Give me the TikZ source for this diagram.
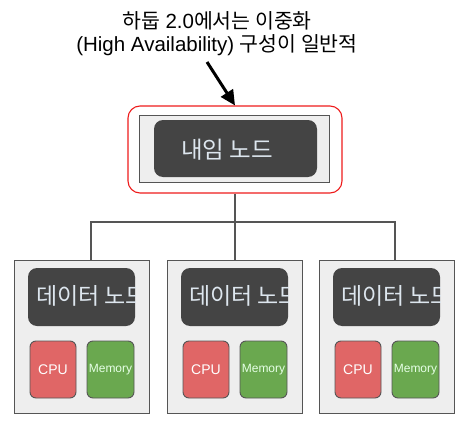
\documentclass[tikz,border=0pt]{standalone}
\usepackage{fontspec}
\setmainfont{Liberation Sans}
\newfontfamily\ko{Noto Sans CJK KR}
\usetikzlibrary{arrows.meta,calc}
\definecolor{hared}{HTML}{EE1C1C}
\definecolor{panel}{HTML}{EEEEEE}
\definecolor{edge}{HTML}{555555}
\definecolor{darkbox}{HTML}{444444}
\definecolor{lighttxt}{HTML}{DDE6EE}
\definecolor{cpured}{HTML}{E06666}
\definecolor{memgreen}{HTML}{6AA84F}
\begin{document}
\begin{tikzpicture}[x=1pt,y=-1pt,
  habox/.style={draw=hared,line width=1.1pt,rounded corners=12pt,minimum width=214pt,minimum height=87pt,inner sep=0pt},
  panelbox/.style={draw=edge,fill=panel,line width=1pt,minimum width=#1,inner sep=0pt},
  darkrect/.style={fill=darkbox,rounded corners=9pt,inner sep=0pt},
  chip/.style={draw=edge,line width=0.9pt,rounded corners=6pt,minimum width=46pt,minimum height=57pt,inner sep=0pt,text=white},
  conn/.style={draw=edge,line width=1.5pt},
  callout/.style={line width=3pt,-{Triangle[length=15pt,width=14pt]}}]
\useasboundingbox (0,0) rectangle (461,423);
% title
\node[align=center,font=\fontsize{20.5}{23}\selectfont] (title) at (217,33.5)
  {{\ko 하둡} 2.0{\ko 에서는 이중화}\\(High Availability) {\ko 구성이 일반적}};
% name node
\node[habox] (red) at (235,149.5) {};
\node[panelbox=190pt,minimum height=67pt] (gray) at (234.3,148.5) {};
\node[darkrect,minimum width=163pt,minimum height=57pt] (dark) at (235.5,148.5) {};
\node[text=lighttxt,font=\ko\fontsize{23.5}{25}\selectfont] (nn) at (227,150) {내임 노드};
% arrow
\coordinate (astart) at (207,62);
\draw[callout] (astart) -- (red.north);
% data nodes
\foreach \o/\n in {0/1,153/2,305/3}{
  \node[panelbox=135pt,minimum height=153pt] (d\n) at (81.5+\o,336.5) {};
  \node[darkrect,minimum width=107pt,minimum height=58pt] (dk\n) at (81.5+\o,297) {};
  \begin{scope}
    \clip[rounded corners=9pt] (dk\n.north west) rectangle (dk\n.south east);
    \node[anchor=west,inner sep=0pt,text=lighttxt,font=\ko\fontsize{23}{25}\selectfont] (dt\n) at (36+\o,296) {데이터 노드};
  \end{scope}
  \node[chip,fill=cpured,font=\fontsize{14}{16}\selectfont] (cpu\n) at (53+\o,369.5) {CPU};
  \node[chip,fill=memgreen,minimum width=47pt,text=white!90!green,font=\fontsize{12}{14}\selectfont] (mem\n) at (110.5+\o,369.5) {Memory};
}
% connectors
\coordinate (jl) at (91,222);
\coordinate (jr) at (395,222);
\draw[conn] (red.south) -- (red.south |- d2.north);
\draw[conn] (d1.north -| jl) -- (jl) -- (jr) -- (d3.north -| jr);
\end{tikzpicture}
\end{document}
